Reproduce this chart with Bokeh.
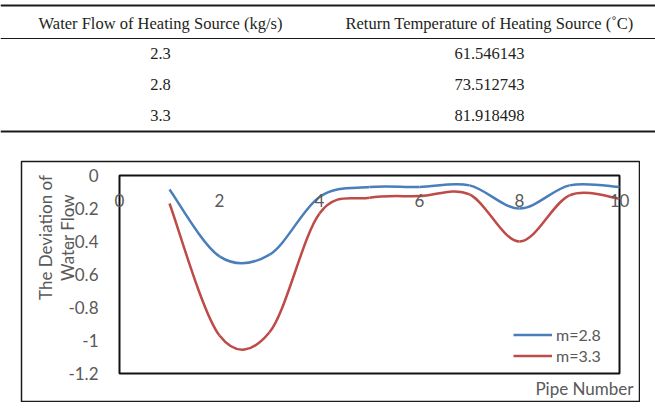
import numpy as np
from bokeh.plotting import figure
from bokeh.layouts import column, row
from bokeh.models import (Range1d, LinearAxis, FixedTicker, Legend, LegendItem,
                          Label, Spacer, ColumnDataSource)
from bokeh.core.properties import value
from bokeh.embed import file_html
from bokeh.resources import INLINE

# ---------------- data ----------------
table_headers = ["Water Flow of Heating Source (kg/s)",
                 "Return Temperature of Heating Source (\u02daC)"]
water_flow = ["2.3", "2.8", "3.3"]
return_temp = ["61.546143", "73.512743", "81.918498"]

pipe_number = [1, 2, 3, 4, 5, 6, 7, 8, 9, 10]
dev_m28 = [-0.085, -0.49, -0.48, -0.13, -0.07, -0.07, -0.06, -0.20, -0.06, -0.07]
dev_m33 = [-0.17, -0.97, -0.95, -0.23, -0.135, -0.125, -0.115, -0.40, -0.12, -0.14]
series_names = ["m=2.8", "m=3.3"]

x_ticks = [0, 2, 4, 6, 8, 10]
x_tick_labels = ["0", "2", "4", "6", "8", "10"]
y_ticks = [0, -0.2, -0.4, -0.6, -0.8, -1, -1.2]
y_tick_labels = ["0", "-0.2", "-0.4", "-0.6", "-0.8", "-1", "-1.2"]

BLUE = "#4A7EBB"
RED = "#BE4B48"
GREY = "#595959"
SANS = "Lato"
SERIF = "Liberation Serif"

# ---------------- table ----------------
tf = figure(width=655, height=160, x_range=Range1d(0, 655), y_range=Range1d(160, 0),
            output_backend="svg", toolbar_location=None, min_border=0)
tf.axis.visible = False
tf.grid.visible = False
tf.outline_line_color = None

tf.segment(x0=[0, 0, 0], x1=[655, 655, 655], y0=[5, 38, 131], y1=[5, 38, 131],
           line_color="#1a1a1a", line_width=[2, 1, 2])

col_x = [160, 489]
tf.text(x=col_x, y=[23, 23], text=table_headers, text_font=value(SERIF),
        text_font_size="16.5px", text_align="center", text_baseline="middle",
        text_color="#231f20")
row_y = [53, 84, 115]
tf.text(x=[col_x[0]] * 3, y=row_y, text=water_flow, text_font=value(SERIF),
        text_font_size="16.5px", text_align="center", text_baseline="middle",
        text_color="#231f20")
tf.text(x=[col_x[1]] * 3, y=row_y, text=return_temp, text_font=value(SERIF),
        text_font_size="16.5px", text_align="center", text_baseline="middle",
        text_color="#231f20")

# ---------------- chart ----------------
# frame = outer chart box; the inner plot area spans x 0..10, y -1.2..0
p = figure(width=620, height=242, x_range=Range1d(-1.96, 10.4),
           y_range=Range1d(-1.3697, 0.0848),
           output_backend="svg", toolbar_location=None,
           x_axis_location=None, y_axis_location=None, min_border=1)
p.grid.visible = False
p.outline_line_color = "#1a1a1a"
p.outline_line_width = 1.5

# inner plot-area border
p.quad(left=[x_ticks[0]], right=[x_ticks[-1]], bottom=[y_ticks[-1]], top=[y_ticks[0]],
       fill_color=None, line_color="#111111", line_width=2)

ya = LinearAxis(fixed_location=0, ticker=FixedTicker(ticks=y_ticks),
                major_label_overrides={t: l for t, l in zip(y_ticks, y_tick_labels)},
                major_tick_line_color=None, minor_tick_line_color=None,
                axis_line_color=None, major_label_standoff=15,
                major_label_text_font=SANS, major_label_text_font_size="17px",
                major_label_text_color=GREY)
p.add_layout(ya, "left")

xa = LinearAxis(fixed_location=0, ticker=FixedTicker(ticks=x_ticks),
                major_label_overrides={t: l for t, l in zip(x_ticks, x_tick_labels)},
                major_tick_line_color=None, minor_tick_line_color=None,
                axis_line_color=None, major_label_standoff=13,
                major_label_text_font=SANS, major_label_text_font_size="17px",
                major_label_text_color=GREY)
p.add_layout(xa, "below")


def smooth_segments(xs, ys):
    xs = np.asarray(xs, float)
    ys = np.asarray(ys, float)
    xp = np.concatenate([[xs[0]], xs, [xs[-1]]])
    yp = np.concatenate([[ys[0]], ys, [ys[-1]]])
    i = np.arange(1, len(xs))
    return dict(
        x0=xp[i], y0=yp[i], x1=xp[i + 1], y1=yp[i + 1],
        cx0=xp[i] + (xp[i + 1] - xp[i - 1]) / 6.0,
        cy0=yp[i] + (yp[i + 1] - yp[i - 1]) / 6.0,
        cx1=xp[i + 1] - (xp[i + 2] - xp[i]) / 6.0,
        cy1=yp[i + 1] - (yp[i + 2] - yp[i]) / 6.0,
    )


curves = []
for ys, col in [(dev_m28, BLUE), (dev_m33, RED)]:
    src = ColumnDataSource(smooth_segments(pipe_number, ys))
    curves.append(p.bezier(x0="x0", y0="y0", x1="x1", y1="y1", cx0="cx0", cy0="cy0",
                           cx1="cx1", cy1="cy1", source=src, line_color=col,
                           line_width=2.5))

legend = Legend(items=[LegendItem(label=series_names[0], renderers=[curves[0]], index=0),
                       LegendItem(label=series_names[1], renderers=[curves[1]], index=0)],
                location=(492, 35), padding=0, margin=0, spacing=0,
                glyph_width=39, glyph_height=21, label_height=21, label_standoff=4,
                label_text_font=SANS, label_text_font_size="16px",
                label_text_color=GREY, background_fill_alpha=0,
                border_line_color=None)
p.add_layout(legend)

p.add_layout(Label(x=10.28, y=-1.291, text="Pipe Number", text_font=SANS,
                   text_font_size="17px", text_color=GREY, text_align="right",
                   text_baseline="middle"))
p.add_layout(Label(x=-1.48, y=-0.376, text="The Deviation of", angle=90, angle_units="deg",
                   text_font=SANS, text_font_size="17px", text_color=GREY,
                   text_align="center", text_baseline="middle"))
p.add_layout(Label(x=-1.04, y=-0.376, text="Water Flow", angle=90, angle_units="deg",
                   text_font=SANS, text_font_size="17px", text_color=GREY,
                   text_align="center", text_baseline="middle"))

layout = column(tf, row(Spacer(width=20, height=242), p))
open("out.html", "w").write(file_html(layout, INLINE))
